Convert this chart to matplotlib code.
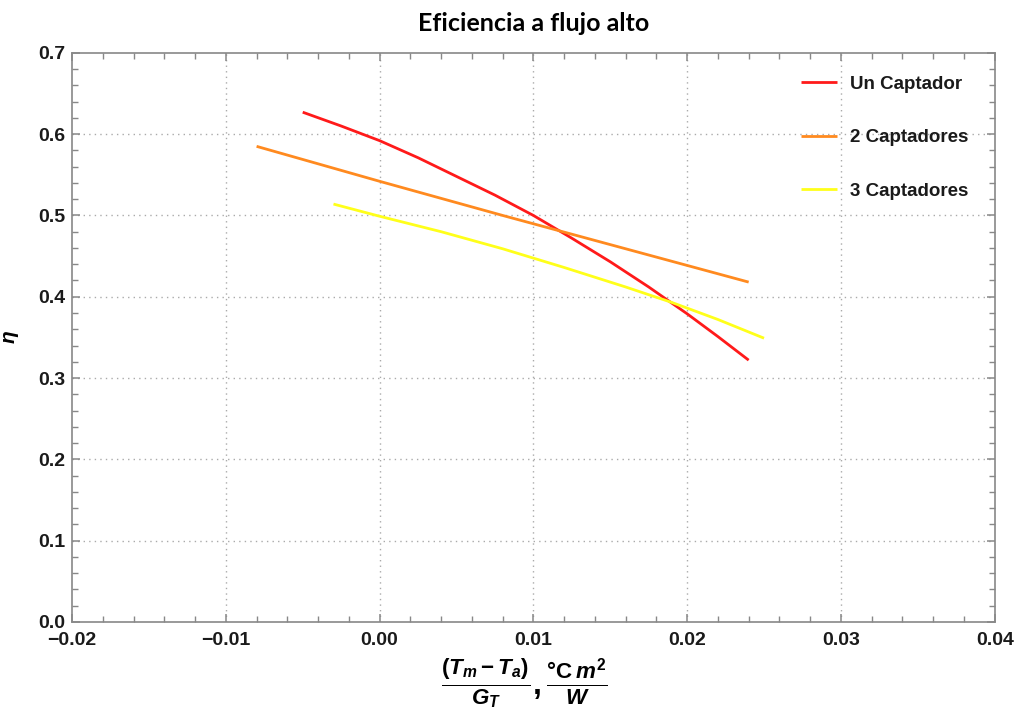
import numpy as np
import matplotlib
matplotlib.use("Agg")
import matplotlib.pyplot as plt
from matplotlib.ticker import MultipleLocator

plt.rcParams["font.family"] = ["Liberation Sans", "DejaVu Sans"]
plt.rcParams["mathtext.fontset"] = "custom"
plt.rcParams["mathtext.it"] = "Liberation Sans:bold:italic"
plt.rcParams["mathtext.rm"] = "Liberation Sans:bold"
plt.rcParams["mathtext.bf"] = "Liberation Sans:bold"

# datos
x_un = [-0.005, -0.0025, 0.0, 0.0025, 0.005, 0.0075, 0.010, 0.0125, 0.015, 0.0175, 0.020, 0.022, 0.024]
y_un = [0.627, 0.610, 0.592, 0.571, 0.548, 0.525, 0.500, 0.472, 0.443, 0.412, 0.379, 0.351, 0.322]

x_dos = [-0.008, 0.0, 0.008, 0.016, 0.024]
y_dos = [0.585, 0.542, 0.500, 0.459, 0.418]

x_tres = [-0.003, 0.0, 0.004, 0.008, 0.012, 0.016, 0.019, 0.022, 0.025]
y_tres = [0.514, 0.499, 0.480, 0.459, 0.436, 0.412, 0.393, 0.372, 0.349]

labels = ["Un Captador", "2 Captadores", "3 Captadores"]
colors = ["#ff1a1a", "#ff8a1f", "#ffff1a"]

fig = plt.figure(figsize=(10.15, 7.24), dpi=100)
ax = fig.add_axes([0.071, 0.141, 0.909, 0.786])

for (xs, ys), lab, c in zip([(x_un, y_un), (x_dos, y_dos), (x_tres, y_tres)], labels, colors):
    ax.plot(xs, ys, color=c, lw=2.0, label=lab, solid_capstyle="butt", solid_joinstyle="round")

ax.set_xlim(-0.02, 0.04)
ax.set_ylim(0.0, 0.7)
ax.xaxis.set_minor_locator(MultipleLocator(0.002))
ax.yaxis.set_minor_locator(MultipleLocator(0.02))
ax.set_xticks(np.arange(-0.02, 0.0401, 0.01))
ax.set_xticklabels(["\u22120.02", "\u22120.01", "0.00", "0.01", "0.02", "0.03", "0.04"])
ax.set_yticks(np.arange(0, 0.701, 0.1))
ax.set_yticklabels([f"{v:.1f}" for v in np.arange(0, 0.701, 0.1)])

ax.tick_params(which="both", direction="in", top=True, right=True, color="#888888",
               labelsize=14, labelcolor="#1a1a1a")
ax.tick_params(which="major", length=6, width=1.1)
ax.tick_params(which="minor", length=4, width=1.0)
ax.tick_params(axis="x", pad=7)
ax.tick_params(axis="y", pad=5)
for lab in ax.get_xticklabels() + ax.get_yticklabels():
    lab.set_fontweight("bold")
for s in ax.spines.values():
    s.set_color("#888888")
    s.set_linewidth(1.2)

for v in [-0.01, 0.0, 0.01, 0.02, 0.03]:
    ax.axvline(v, color="#aaaaaa", lw=1.0, ls=(0, (1, 3)), zorder=0)
for v in [0.1, 0.2, 0.3, 0.4, 0.5, 0.6]:
    ax.axhline(v, color="#aaaaaa", lw=1.0, ls=(0, (1, 3)), zorder=0)

ax.set_title("Eficiencia a flujo alto", fontsize=18, fontweight="bold",
             family=["Lato", "DejaVu Sans"], pad=16)
ax.set_ylabel(r"$\eta$", fontsize=15, labelpad=12)
ax.set_xlabel(r"$\frac{(T_m-T_a)}{G_T},\frac{\mathrm{°C}\,m^2}{W}$", fontsize=23)
ax.xaxis.set_label_coords(0.49, -0.06, transform=ax.transAxes)
ax.xaxis.label.set_va("top")

leg = ax.legend(loc="upper right", frameon=False, fontsize=13.5, handlelength=1.9,
                labelspacing=1.95, handletextpad=0.7, bbox_to_anchor=(0.99, 0.99))
for t in leg.get_texts():
    t.set_fontweight("bold")
    t.set_color("#1a1a1a")

fig.savefig("out.png", dpi=100)
